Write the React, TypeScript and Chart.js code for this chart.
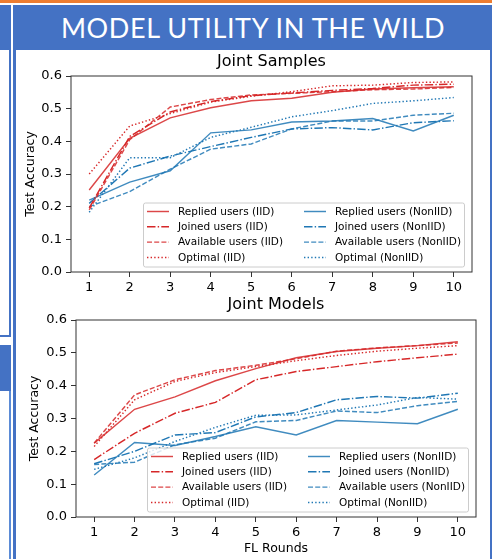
import React, { useEffect, useRef } from "react";
import { Chart, registerables } from "chart.js";

Chart.register(...registerables);

// ---------- data ----------
const ROUNDS = [1, 2, 3, 4, 5, 6, 7, 8, 9, 10];
const Y_TICKS = [0, 0.1, 0.2, 0.3, 0.4, 0.5, 0.6];

const SERIES_LABELS = [
  "Replied users (IID)",
  "Joined users (IID)",
  "Available users (IID)",
  "Optimal (IID)",
  "Replied users (NonIID)",
  "Joined users (NonIID)",
  "Available users (NonIID)",
  "Optimal (NonIID)",
];

// Joint Samples
const JS_REPLIED_IID = [0.251, 0.409, 0.472, 0.503, 0.524, 0.532, 0.55, 0.56, 0.564, 0.567];
const JS_JOINED_IID = [0.196, 0.415, 0.49, 0.522, 0.54, 0.548, 0.556, 0.562, 0.572, 0.575];
const JS_AVAIL_IID = [0.19, 0.405, 0.505, 0.528, 0.542, 0.547, 0.552, 0.558, 0.56, 0.565];
const JS_OPT_IID = [0.3, 0.447, 0.485, 0.52, 0.538, 0.552, 0.57, 0.572, 0.58, 0.582];
const JS_REPLIED_NON = [0.22, 0.275, 0.31, 0.426, 0.435, 0.459, 0.462, 0.47, 0.432, 0.48];
const JS_JOINED_NON = [0.21, 0.318, 0.355, 0.384, 0.412, 0.438, 0.442, 0.435, 0.457, 0.463];
const JS_AVAIL_NON = [0.2, 0.246, 0.315, 0.376, 0.392, 0.438, 0.462, 0.462, 0.48, 0.486];
const JS_OPT_NON = [0.183, 0.35, 0.35, 0.412, 0.443, 0.475, 0.494, 0.516, 0.524, 0.534];

// Joint Models
const JM_REPLIED_IID = [0.225, 0.328, 0.366, 0.415, 0.452, 0.485, 0.504, 0.514, 0.522, 0.534];
const JM_JOINED_IID = [0.175, 0.255, 0.316, 0.349, 0.418, 0.443, 0.458, 0.473, 0.485, 0.496];
const JM_AVAIL_IID = [0.225, 0.372, 0.418, 0.446, 0.462, 0.482, 0.505, 0.515, 0.522, 0.53];
const JM_OPT_IID = [0.215, 0.357, 0.413, 0.44, 0.458, 0.476, 0.492, 0.505, 0.514, 0.522];
const JM_REPLIED_NON = [0.128, 0.227, 0.218, 0.245, 0.275, 0.25, 0.294, 0.289, 0.284, 0.328];
const JM_JOINED_NON = [0.162, 0.2, 0.25, 0.257, 0.305, 0.318, 0.357, 0.367, 0.362, 0.377];
const JM_AVAIL_NON = [0.16, 0.167, 0.22, 0.24, 0.29, 0.294, 0.323, 0.318, 0.339, 0.352];
const JM_OPT_NON = [0.145, 0.18, 0.23, 0.273, 0.31, 0.311, 0.326, 0.341, 0.364, 0.359];

// ---------- styles ----------
const FONT = "'DejaVu Sans', sans-serif";
const RED = "#d62728";
const RED_A = "rgba(214,39,40,0.85)";
const BLUE = "#1f77b4";
const BLUE_A = "rgba(31,119,180,0.85)";
const LW = 1.45;
const DASHES: number[][] = [[], [8.5, 2.2, 1.4, 2.2], [5, 2.2], [1.4, 2.2]];
const COLORS = [RED_A, RED, RED_A, RED, BLUE_A, BLUE, BLUE_A, BLUE];

const spinesPlugin = {
  id: "spines",
  afterDatasetsDraw(chart: any) {
    const { ctx, chartArea: a } = chart;
    ctx.save();
    ctx.strokeStyle = "#333";
    ctx.lineWidth = 1;
    ctx.strokeRect(a.left, a.top, a.right - a.left, a.bottom - a.top);
    ctx.restore();
  },
};

const titlePlugin = {
  id: "axesTitle",
  afterDraw(chart: any, _args: any, opts: any) {
    const { ctx, chartArea: a } = chart;
    ctx.save();
    ctx.fillStyle = "#000";
    ctx.font = `16px ${FONT}`;
    ctx.textAlign = "center";
    ctx.textBaseline = "middle";
    ctx.fillText(opts.text, (a.left + a.right) / 2, opts.y);
    ctx.restore();
  },
};

const legendPlugin = {
  id: "insideLegend",
  afterDatasetsDraw(chart: any) {
    const { ctx, chartArea: a } = chart;
    const w = 321;
    const h = 64;
    const x0 = a.right - 7.5 - w;
    const y0 = a.bottom - 5 - h;
    ctx.save();
    ctx.beginPath();
    if (ctx.roundRect) ctx.roundRect(x0, y0, w, h, 2);
    else ctx.rect(x0, y0, w, h);
    ctx.fillStyle = "rgba(255,255,255,0.8)";
    ctx.fill();
    ctx.strokeStyle = "#cccccc";
    ctx.lineWidth = 1;
    ctx.stroke();
    chart.data.datasets.forEach((ds: any, i: number) => {
      const col = Math.floor(i / 4);
      const row = i % 4;
      const yy = y0 + 8.5 + row * 15.3;
      const lx = x0 + 3.5 + col * 157;
      ctx.setLineDash(ds.borderDash || []);
      ctx.strokeStyle = ds.borderColor;
      ctx.lineWidth = ds.borderWidth;
      ctx.beginPath();
      ctx.moveTo(lx, yy);
      ctx.lineTo(lx + 22, yy);
      ctx.stroke();
      ctx.setLineDash([]);
      ctx.fillStyle = "#000";
      ctx.font = `10.5px ${FONT}`;
      ctx.textBaseline = "middle";
      ctx.textAlign = "left";
      ctx.fillText(ds.label, lx + 31, yy + 0.5);
    });
    ctx.restore();
  },
};

type Opts = {
  title: string;
  titleY: number;
  series: number[][];
  padTop: number;
  padRight: number;
  padBottom: number;
  yWidth: number;
  yTitlePad: number;
  xHeight: number;
  xTitle?: string;
};

function makeConfig(o: Opts): any {
  return {
    type: "line",
    data: {
      datasets: o.series.map((vals, i) => ({
        label: SERIES_LABELS[i],
        data: ROUNDS.map((r, j) => ({ x: r, y: vals[j] })),
        borderColor: COLORS[i],
        backgroundColor: COLORS[i],
        borderWidth: LW,
        borderDash: DASHES[i % 4],
        pointRadius: 0,
        tension: 0,
        fill: false,
      })),
    },
    options: {
      animation: false,
      responsive: false,
      maintainAspectRatio: false,
      events: [],
      layout: { padding: { left: 0, right: o.padRight, top: o.padTop, bottom: o.padBottom } },
      plugins: {
        legend: { display: false },
        tooltip: { enabled: false },
        title: { display: false },
        axesTitle: { text: o.title, y: o.titleY },
      },
      scales: {
        x: {
          type: "linear",
          min: 0.55,
          max: 10.45,
          afterBuildTicks: (s: any) => {
            s.ticks = ROUNDS.map((v) => ({ value: v }));
          },
          afterFit: (s: any) => {
            s.height = o.xHeight;
          },
          ticks: {
            color: "#000",
            font: { family: FONT, size: 13 },
            padding: 3,
            maxRotation: 0,
            autoSkip: false,
            callback: (v: any) => String(v),
          },
          grid: { drawOnChartArea: false, drawTicks: true, tickLength: 5, color: "#333", tickWidth: 1 },
          border: { display: false },
          title: {
            display: !!o.xTitle,
            text: o.xTitle || "",
            color: "#000",
            font: { family: FONT, size: 12.5, lineHeight: 1.2 },
            padding: { top: 0, bottom: 3 },
          },
        },
        y: {
          type: "linear",
          min: 0,
          max: 0.6,
          afterBuildTicks: (s: any) => {
            s.ticks = Y_TICKS.map((v) => ({ value: v }));
          },
          afterFit: (s: any) => {
            s.width = o.yWidth;
          },
          ticks: {
            color: "#000",
            font: { family: FONT, size: 13 },
            padding: 4,
            callback: (v: any) => Number(v).toFixed(1),
          },
          grid: { drawOnChartArea: false, drawTicks: true, tickLength: 5, color: "#333", tickWidth: 1 },
          border: { display: false },
          title: {
            display: true,
            text: "Test Accuracy",
            color: "#000",
            font: { family: FONT, size: 12.5, lineHeight: 1.2 },
            padding: { top: o.yTitlePad, bottom: 0 },
          },
        },
      },
    },
    plugins: [spinesPlugin, legendPlugin, titlePlugin],
  };
}

function ChartCanvas(props: { cfg: Opts; left: number; top: number; width: number; height: number }) {
  const ref = useRef<HTMLCanvasElement | null>(null);
  useEffect(() => {
    if (!ref.current) return;
    const chart = new Chart(ref.current, makeConfig(props.cfg));
    return () => chart.destroy();
  }, []);
  return (
    <canvas
      ref={ref}
      width={props.width}
      height={props.height}
      style={{
        position: "absolute",
        left: props.left,
        top: props.top,
        width: props.width,
        height: props.height,
      }}
    />
  );
}

const BLUE_BORDER = "#4472c4";

export default function App() {
  const samplesCfg: Opts = {
    title: "Joint Samples",
    titleY: 10,
    series: [
      JS_REPLIED_IID, JS_JOINED_IID, JS_AVAIL_IID, JS_OPT_IID,
      JS_REPLIED_NON, JS_JOINED_NON, JS_AVAIL_NON, JS_OPT_NON,
    ],
    padTop: 24,
    padRight: 15,
    padBottom: 2,
    yWidth: 54,
    yTitlePad: 5.8,
    xHeight: 20,
  };
  const modelsCfg: Opts = {
    title: "Joint Models",
    titleY: 11,
    series: [
      JM_REPLIED_IID, JM_JOINED_IID, JM_AVAIL_IID, JM_OPT_IID,
      JM_REPLIED_NON, JM_JOINED_NON, JM_AVAIL_NON, JM_OPT_NON,
    ],
    padTop: 26,
    padRight: 11,
    padBottom: 0,
    yWidth: 59,
    yTitlePad: 9.8,
    xHeight: 42,
    xTitle: "FL Rounds",
  };

  const box = (s: React.CSSProperties) => <div style={{ position: "absolute", ...s }} />;

  return (
    <div
      style={{
        position: "absolute",
        left: 0,
        top: 0,
        width: 498,
        height: 559,
        overflow: "hidden",
        background: "#fff",
      }}
    >
      {/* slide decorations */}
      {box({ left: 0, top: 0, width: 492, height: 3, background: "#ed7d31" })}
      {box({ left: 0, top: 5, width: 9, height: 45, background: BLUE_BORDER })}
      {box({ left: 9, top: 5, width: 2, height: 332, background: BLUE_BORDER })}
      {box({ left: 0, top: 335, width: 11, height: 2, background: BLUE_BORDER })}
      {box({ left: 0, top: 345, width: 11, height: 46, background: BLUE_BORDER })}
      {box({ left: 9, top: 391, width: 2, height: 168, background: "#5b8bd6" })}
      {box({ left: 13, top: 5, width: 3, height: 554, background: BLUE_BORDER })}
      {box({ left: 490, top: 5, width: 2, height: 554, background: BLUE_BORDER })}
      {box({ left: 16, top: 5, width: 474, height: 45, background: BLUE_BORDER })}
      <div
        style={{
          position: "absolute",
          left: 16,
          top: 5,
          width: 474,
          height: 45,
          display: "flex",
          alignItems: "center",
          justifyContent: "center",
          color: "#fff",
          fontFamily: "Lato, 'Open Sans', sans-serif",
          fontSize: 27,
          lineHeight: 1,
          letterSpacing: 0.6,
          whiteSpace: "nowrap",
        }}
      >
        MODEL UTILITY IN THE WILD
      </div>
      <ChartCanvas cfg={samplesCfg} left={17} top={52} width={470} height={242} />
      <ChartCanvas cfg={modelsCfg} left={17} top={294} width={470} height={265} />
    </div>
  );
}
